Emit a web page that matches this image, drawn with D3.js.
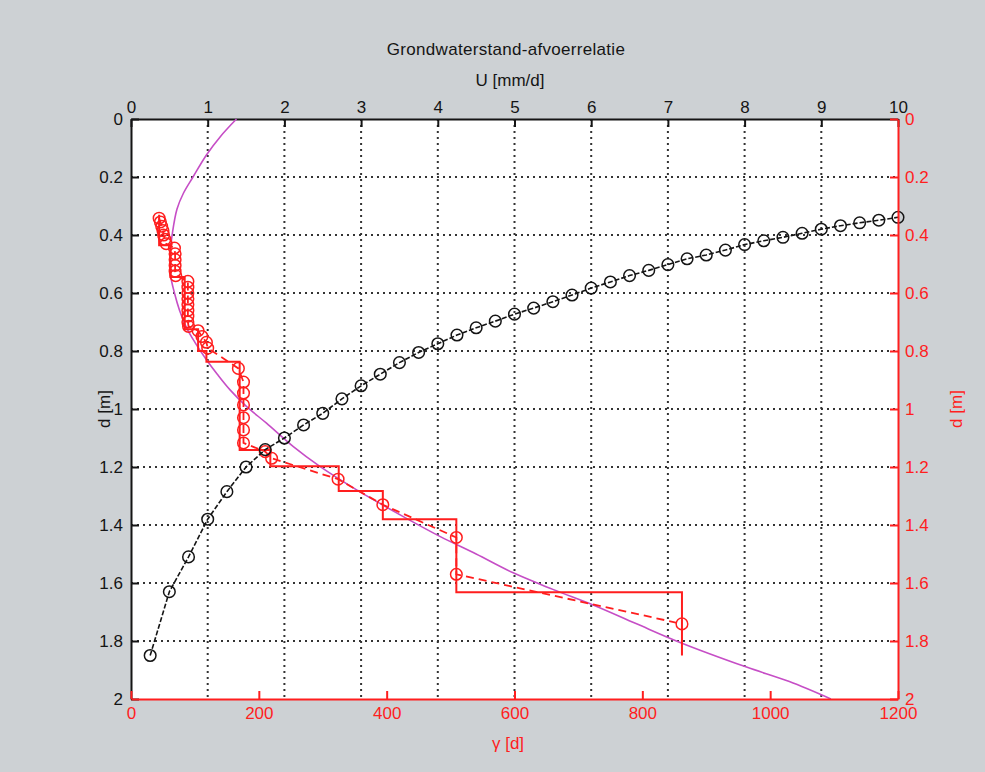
<!DOCTYPE html>
<html>
<head>
<meta charset="utf-8">
<script src="https://cdn.jsdelivr.net/npm/d3@7"></script>
<style>
  body { margin: 0; background: #cdd1d4; }
  svg { display: block; font-family: "Liberation Sans", Arial, sans-serif; }
</style>
</head>
<body>
<div id="chart"></div>
<script>
// black series: discharge U [mm/d] against depth d [m]
var uVals = [0.25, 0.5, 0.75, 1, 1.25, 1.5, 1.75, 2, 2.25, 2.5, 2.75, 3, 3.25, 3.5, 3.75, 4,
  4.25, 4.5, 4.75, 5, 5.25, 5.5, 5.75, 6, 6.25, 6.5, 6.75, 7, 7.25, 7.5, 7.75, 8,
  8.25, 8.5, 8.75, 9, 9.25, 9.5, 9.75, 10];
var uDepth = [1.85, 1.63, 1.51, 1.38, 1.285, 1.2, 1.14, 1.1, 1.055, 1.015, 0.965, 0.92, 0.88, 0.84, 0.805, 0.775,
  0.745, 0.72, 0.697, 0.673, 0.652, 0.63, 0.607, 0.583, 0.562, 0.54, 0.522, 0.502, 0.482, 0.469, 0.452, 0.433,
  0.42, 0.408, 0.394, 0.38, 0.368, 0.358, 0.349, 0.339];

// red circles: gamma [d] against depth d [m]
var gammaPts = [44, 46, 48, 50, 51, 53, 55,
  68, 69, 69, 69, 69, 70,
  89, 89, 89, 89, 89, 89, 89, 89, 90,
  105, 111, 118, 120,
  168, 176, 176, 176, 176, 176, 176,
  210, 220, 324, 394, 509, 509, 862];
var gammaDepth = [0.342, 0.355, 0.37, 0.385, 0.4, 0.415, 0.43,
  0.445, 0.465, 0.485, 0.505, 0.525, 0.54,
  0.56, 0.58, 0.6, 0.62, 0.64, 0.66, 0.68, 0.7, 0.715,
  0.73, 0.75, 0.77, 0.79,
  0.86, 0.907, 0.945, 0.986, 1.03, 1.072, 1.117,
  1.147, 1.17, 1.242, 1.33, 1.443, 1.57, 1.741];

// red staircase
var stepGamma = [44, 44, 62, 62, 84, 84, 105, 105, 118, 118, 170, 170, 218, 218, 325, 325, 394, 394, 509, 509, 862, 862];
var stepDepth = [0.33, 0.435, 0.435, 0.545, 0.545, 0.725, 0.725, 0.8, 0.8, 0.837, 0.837, 1.141, 1.141, 1.197, 1.197, 1.283, 1.283, 1.38, 1.38, 1.632, 1.632, 1.85];

// magenta fitted curve
var curveGamma = [165, 140, 118, 97, 82, 72, 65, 61, 62, 68, 76, 87, 100, 118, 135, 155, 181, 212, 254, 296,
  353, 426, 484, 540, 598, 660, 723, 790, 859, 963, 1030, 1095];
var curveDepth = [0, 0.06, 0.124, 0.2, 0.256, 0.31, 0.39, 0.475, 0.54, 0.6, 0.66, 0.72, 0.77, 0.83, 0.88, 0.934, 0.992, 1.049, 1.13, 1.199,
  1.279, 1.371, 1.44, 1.5, 1.565, 1.622, 1.676, 1.74, 1.805, 1.89, 1.94, 2.0];

var uTicks = [0, 1, 2, 3, 4, 5, 6, 7, 8, 9, 10];
var gammaTicks = [0, 200, 400, 600, 800, 1000, 1200];
var depthTicks = [0, 0.2, 0.4, 0.6, 0.8, 1, 1.2, 1.4, 1.6, 1.8, 2];

var svgWidth = 985;
var svgHeight = 772;
var margin = { top: 119, right: 87, bottom: 73, left: 131 };
var width = svgWidth - margin.left - margin.right;
var height = svgHeight - margin.top - margin.bottom;

var red = "#ff1e1e";
var ink = "#151515";
var fontFam = "'Liberation Sans', Arial, sans-serif";

var svg = d3.select("#chart")
  .append("svg")
  .attr("width", svgWidth)
  .attr("height", svgHeight);

svg.append("rect")
  .attr("width", svgWidth)
  .attr("height", svgHeight)
  .attr("fill", "#cdd1d4");

var chartGroup = svg.append("g")
  .attr("transform", `translate(${margin.left}, ${margin.top})`);

chartGroup.append("rect")
  .attr("width", width)
  .attr("height", height)
  .attr("fill", "white");

// scales
var xU = d3.scaleLinear().domain([0, 10]).range([0, width]);
var xGamma = d3.scaleLinear().domain([0, 1200]).range([0, width]);
var yD = d3.scaleLinear().domain([0, 2]).range([0, height]);

// dotted grid
chartGroup.append("g")
  .selectAll("line")
  .data(uTicks.slice(1, -1))
  .enter()
  .append("line")
  .attr("x1", d => xU(d)).attr("x2", d => xU(d))
  .attr("y1", 0).attr("y2", height)
  .attr("stroke", "#333")
  .attr("stroke-width", 2)
  .attr("stroke-dasharray", "2,4");
chartGroup.append("g")
  .selectAll("line")
  .data(depthTicks.slice(1, -1))
  .enter()
  .append("line")
  .attr("x1", 0).attr("x2", width)
  .attr("y1", d => yD(d)).attr("y2", d => yD(d))
  .attr("stroke", "#333")
  .attr("stroke-width", 2)
  .attr("stroke-dasharray", "2,4");

// black axes (top and left)
var topAxis = d3.axisTop(xU).tickValues(uTicks).tickSizeInner(-8).tickSizeOuter(0).tickPadding(6)
  .tickFormat(d3.format("d"));
var leftAxis = d3.axisLeft(yD).tickValues(depthTicks).tickSizeInner(-8).tickSizeOuter(0).tickPadding(8)
  .tickFormat(d3.format("~g"));

var gTop = chartGroup.append("g").call(topAxis);
var gLeft = chartGroup.append("g").call(leftAxis);
[gTop, gLeft].forEach(function (g) {
  g.attr("font-family", fontFam).attr("font-size", 17);
  g.select(".domain").attr("stroke", ink).attr("stroke-width", 2);
  g.selectAll(".tick line").attr("stroke", ink).attr("stroke-width", 2);
  g.selectAll(".tick text").attr("fill", ink);
});

// magenta curve
var curveLine = d3.line()
  .x((d, i) => xGamma(curveGamma[i]))
  .y((d, i) => yD(curveDepth[i]))
  .curve(d3.curveCatmullRom);
chartGroup.append("path")
  .attr("d", curveLine(curveGamma))
  .attr("fill", "none")
  .attr("stroke", "#c64ec6")
  .attr("stroke-width", 1.6);

// red staircase
var stepLine = d3.line()
  .x((d, i) => xGamma(stepGamma[i]))
  .y((d, i) => yD(stepDepth[i]));
chartGroup.append("path")
  .attr("d", stepLine(stepGamma))
  .attr("fill", "none")
  .attr("stroke", red)
  .attr("stroke-width", 2);

// red dashed line through circles
var redLine = d3.line()
  .x((d, i) => xGamma(gammaPts[i]))
  .y((d, i) => yD(gammaDepth[i]));
chartGroup.append("path")
  .attr("d", redLine(gammaPts))
  .attr("fill", "none")
  .attr("stroke", red)
  .attr("stroke-width", 1.8)
  .attr("stroke-dasharray", "8,5");

chartGroup.append("g")
  .selectAll("circle")
  .data(gammaPts)
  .enter()
  .append("circle")
  .attr("cx", (d, i) => xGamma(d))
  .attr("cy", (d, i) => yD(gammaDepth[i]))
  .attr("r", 5.8)
  .attr("fill", "none")
  .attr("stroke", red)
  .attr("stroke-width", 1.5);

// black line with circles
var blackLine = d3.line()
  .x((d, i) => xU(uVals[i]))
  .y((d, i) => yD(uDepth[i]));
chartGroup.append("path")
  .attr("d", blackLine(uVals))
  .attr("fill", "none")
  .attr("stroke", ink)
  .attr("stroke-width", 1.6)
  .attr("stroke-dasharray", "5,2");

chartGroup.append("g")
  .selectAll("circle")
  .data(uVals)
  .enter()
  .append("circle")
  .attr("cx", d => xU(d))
  .attr("cy", (d, i) => yD(uDepth[i]))
  .attr("r", 5.8)
  .attr("fill", "none")
  .attr("stroke", ink)
  .attr("stroke-width", 1.5);

// red axes (bottom and right)
var bottomAxis = d3.axisBottom(xGamma).tickValues(gammaTicks).tickSizeInner(-8).tickSizeOuter(0).tickPadding(8)
  .tickFormat(d3.format("d"));
var rightAxis = d3.axisRight(yD).tickValues(depthTicks).tickSizeInner(-8).tickSizeOuter(0).tickPadding(7)
  .tickFormat(d3.format("~g"));

var gBottom = chartGroup.append("g")
  .attr("transform", `translate(0, ${height})`)
  .call(bottomAxis);
var gRight = chartGroup.append("g")
  .attr("transform", `translate(${width}, 0)`)
  .call(rightAxis);
[gBottom, gRight].forEach(function (g) {
  g.attr("font-family", fontFam).attr("font-size", 17);
  g.select(".domain").attr("stroke", red).attr("stroke-width", 2);
  g.selectAll(".tick line").attr("stroke", red).attr("stroke-width", 2);
  g.selectAll(".tick text").attr("fill", red);
});

// titles and axis labels
svg.append("text")
  .attr("x", 506)
  .attr("y", 55)
  .attr("text-anchor", "middle")
  .style("font-size", "17px")
  .style("letter-spacing", "0.3px")
  .attr("fill", ink)
  .text("Grondwaterstand-afvoerrelatie");

svg.append("text")
  .attr("x", 510)
  .attr("y", 86)
  .attr("text-anchor", "middle")
  .style("font-size", "17px")
  .attr("fill", ink)
  .text("U [mm/d]");

svg.append("text")
  .attr("transform", `translate(110, ${margin.top + height / 2}) rotate(-90)`)
  .attr("text-anchor", "middle")
  .style("font-size", "17px")
  .attr("fill", ink)
  .text("d [m]");

svg.append("text")
  .attr("transform", `translate(962, ${margin.top + height / 2}) rotate(-90)`)
  .attr("text-anchor", "middle")
  .style("font-size", "17px")
  .attr("fill", red)
  .text("d [m]");

svg.append("text")
  .attr("x", 508)
  .attr("y", 749)
  .attr("text-anchor", "middle")
  .style("font-size", "17px")
  .attr("fill", red)
  .text("γ [d]");
</script>
</body>
</html>
